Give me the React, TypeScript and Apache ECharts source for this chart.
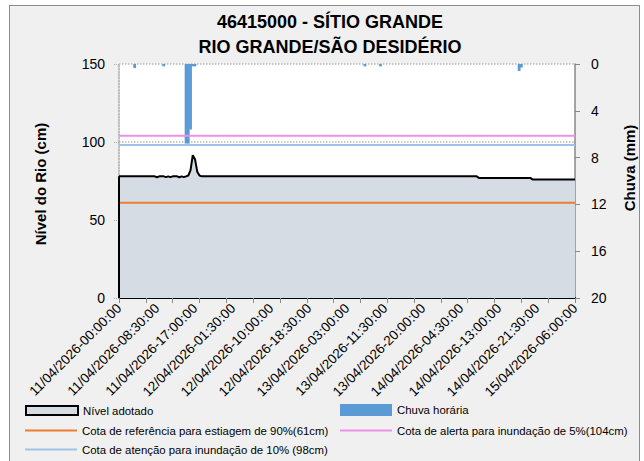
import React, { useEffect, useRef } from "react";
import * as echarts from "echarts";

const TITLE_LINE_1 = "46415000 - SÍTIO GRANDE";
const TITLE_LINE_2 = "RIO GRANDE/SÃO DESIDÉRIO";
const LEFT_AXIS_NAME = "Nível do Rio (cm)";
const RIGHT_AXIS_NAME = "Chuva (mm)";

const SERIES_LEVEL = "Nível adotado";
const SERIES_RAIN = "Chuva horária";
const SERIES_DRY = "Cota de referência para estiagem de 90%(61cm)";
const SERIES_ALERT = "Cota de alerta para inundação de 5%(104cm)";
const SERIES_ATTN = "Cota de atenção para inundação de 10% (98cm)";

const COTA_DRY = 61;
const COTA_ALERT = 104;
const COTA_ATTN = 98;

// time stamps, 30-minute steps from 11/04/2026 00:00 to 15/04/2026 06:00
const CATEGORIES: string[] = [];
for (let k = 0; k <= 204; k++) {
  const totalMin = k * 30;
  const day = 11 + Math.floor(totalMin / 1440);
  const h = Math.floor((totalMin % 1440) / 60);
  const m = totalMin % 60;
  const p = (n: number) => (n < 10 ? "0" + n : "" + n);
  CATEGORIES.push(`${p(day)}/04/2026-${p(h)}:${p(m)}:00`);
}

// river level (cm), one value per 30 minutes (205 values)
const LEVEL: number[] = [
  78, 78, 78, 78, 78, 78, 78, 78, 78, 78, 78, 78, 78, 78, 78, 78, 78, 77.4, 78, 78,
  78, 77.5, 78, 77.5, 78, 78, 78, 77.4, 78, 77.5, 78, 78.5, 82, 91.5, 89, 81, 78.5, 78, 78, 78,
  78, 78, 78, 78, 78, 78, 78, 78, 78, 78, 78, 78, 78, 78, 78, 78, 78, 78, 78, 78,
  78, 78, 78, 78, 78, 78, 78, 78, 78, 78, 78, 78, 78, 78, 78, 78, 78, 78, 78, 78,
  78, 78, 78, 78, 78, 78, 78, 78, 78, 78, 78, 78, 78, 78, 78, 78, 78, 78, 78, 78,
  78, 78, 78, 78, 78, 78, 78, 78, 78, 78, 78, 78, 78, 78, 78, 78, 78, 78, 78, 78,
  78, 78, 78, 78, 78, 78, 78, 78, 78, 78, 78, 78, 78, 78, 78, 78, 78, 78, 78, 78,
  78, 78, 78, 78, 78, 78, 78, 78, 78, 78, 78, 78, 78, 78, 78, 78, 78, 78, 78, 78,
  78, 77, 77, 77, 77, 77, 77, 77, 77, 77, 77, 77, 77, 77, 77, 77, 77, 77, 77, 77,
  77, 77, 77, 77, 77, 76, 76, 76, 76, 76, 76, 76, 76, 76, 76, 76, 76, 76, 76, 76,
  76, 76, 76, 76, 76,
];

// hourly rain (mm), one value per 30 minutes (205 values)
const RAIN: number[] = [
  0, 0, 0, 0, 0, 0, 0, 0.35, 0, 0, 0, 0, 0, 0, 0, 0, 0, 0, 0, 0,
  0.2, 0, 0, 0, 0, 0, 0, 0, 0, 0, 6.8, 6.8, 5.6, 0.2, 0.2, 0, 0, 0, 0, 0,
  0, 0, 0, 0, 0, 0, 0, 0, 0, 0, 0, 0, 0, 0, 0, 0, 0, 0, 0, 0,
  0, 0, 0, 0, 0, 0, 0, 0, 0, 0, 0, 0, 0, 0, 0, 0, 0, 0, 0, 0,
  0, 0, 0, 0, 0, 0, 0, 0, 0, 0, 0, 0, 0, 0, 0, 0, 0, 0, 0, 0,
  0, 0, 0, 0, 0, 0, 0, 0, 0, 0, 0.2, 0, 0, 0, 0, 0, 0, 0.2, 0, 0,
  0, 0, 0, 0, 0, 0, 0, 0, 0, 0, 0, 0, 0, 0, 0, 0, 0, 0, 0, 0,
  0, 0, 0, 0, 0, 0, 0, 0, 0, 0, 0, 0, 0, 0, 0, 0, 0, 0, 0, 0,
  0, 0, 0, 0, 0, 0, 0, 0, 0, 0, 0, 0, 0, 0, 0, 0, 0, 0, 0, 0.6,
  0.3, 0, 0, 0, 0, 0, 0, 0, 0, 0, 0, 0, 0, 0, 0, 0, 0, 0, 0, 0,
  0, 0, 0, 0, 0,
];

const FONT = "'Liberation Sans', Arial, sans-serif";

export default function App() {
  const ref = useRef<HTMLDivElement>(null);

  useEffect(() => {
    if (!ref.current) return;
    const chart = echarts.init(ref.current, undefined, { renderer: "svg" });
    const first = CATEGORIES[0];
    const last = CATEGORIES[CATEGORIES.length - 1];
    const legendBase = {
      orient: "horizontal" as const,
      padding: 0,
      itemWidth: 52,
      itemHeight: 9,
      itemGap: 6,
      selectedMode: false,
      textStyle: { fontFamily: FONT, fontSize: 11.4, color: "#000" },
    };
    const lineLegend = (name: string, color: string, left: number, top: number) => ({
      ...legendBase,
      left,
      top,
      itemHeight: 2,
      data: [{ name, icon: "rect", itemStyle: { color } }],
    });
    chart.setOption({
      animation: false,
      backgroundColor: "transparent",
      graphic: [
        {
          type: "text",
          x: 330,
          y: 22,
          style: {
            text: TITLE_LINE_1,
            font: `bold 18px ${FONT}`,
            fill: "#000",
            textAlign: "center",
            textVerticalAlign: "middle",
          },
        },
        {
          type: "text",
          x: 330,
          y: 47,
          style: {
            text: TITLE_LINE_2,
            font: `bold 18px ${FONT}`,
            fill: "#000",
            textAlign: "center",
            textVerticalAlign: "middle",
          },
        },
        {
          type: "text",
          x: 40,
          y: 184,
          rotation: Math.PI / 2,
          style: {
            text: LEFT_AXIS_NAME,
            font: `bold 15px ${FONT}`,
            fill: "#000",
            textAlign: "center",
            textVerticalAlign: "middle",
          },
        },
        {
          type: "text",
          x: 629,
          y: 168,
          rotation: Math.PI / 2,
          style: {
            text: RIGHT_AXIS_NAME,
            font: `bold 15px ${FONT}`,
            fill: "#000",
            textAlign: "center",
            textVerticalAlign: "middle",
          },
        },
      ],
      grid: {
        left: 119,
        top: 64,
        width: 456,
        height: 234,
        show: true,
        backgroundColor: "#ffffff",
        borderWidth: 0,
      },
      xAxis: {
        type: "category",
        data: CATEGORIES,
        boundaryGap: false,
        axisLine: { lineStyle: { color: "#000", width: 2 } },
        axisTick: { interval: 11, length: 5, lineStyle: { color: "#888", width: 1 } },
        axisLabel: {
          interval: 16,
          rotate: 45,
          margin: 8,
          fontFamily: FONT,
          fontSize: 13.5,
          color: "#000",
        },
        splitLine: { show: false },
      },
      yAxis: [
        {
          type: "value",
          min: 0,
          max: 150,
          interval: 50,
          axisLine: { show: true, lineStyle: { color: "#aaa", type: "dotted", width: 1.5 } },
          axisTick: { show: true, length: 5, lineStyle: { color: "#aaa", type: "dotted" } },
          axisLabel: { margin: 14, fontFamily: FONT, fontSize: 14, color: "#000" },
          splitLine: { show: true, lineStyle: { color: "#bbb", type: "dotted", width: 1.5 } },
        },
        {
          type: "value",
          min: 0,
          max: 20,
          interval: 4,
          inverse: true,
          position: "right",
          axisLine: { show: true, lineStyle: { color: "#888", width: 1.5 } },
          axisTick: { show: true, length: 5, inside: false, lineStyle: { color: "#888" } },
          axisLabel: { margin: 16, fontFamily: FONT, fontSize: 14, color: "#000" },
          splitLine: { show: false },
        },
      ],
      legend: [
        {
          ...legendBase,
          left: 25,
          top: 405,
          data: [
            {
              name: SERIES_LEVEL,
              icon: "rect",
              itemStyle: { color: "#d6dce4", borderColor: "#000", borderWidth: 2 },
            },
          ],
        },
        {
          ...legendBase,
          left: 340,
          top: 404,
          itemHeight: 12,
          data: [{ name: SERIES_RAIN, icon: "rect" }],
        },
        lineLegend(SERIES_DRY, "#ed7d31", 25, 425),
        lineLegend(SERIES_ALERT, "#ec90e8", 340, 425),
        lineLegend(SERIES_ATTN, "#9dc3e6", 25, 444),
      ],
      series: [
        {
          name: SERIES_LEVEL,
          type: "line",
          data: LEVEL,
          yAxisIndex: 0,
          symbol: "none",
          lineStyle: { color: "#000", width: 2 },
          itemStyle: { color: "#d6dce4" },
          areaStyle: { color: "#d6dce4", opacity: 1 },
          markLine: {
            silent: true,
            symbol: "none",
            label: { show: false },
            lineStyle: { color: "#000", width: 2, type: "solid" },
            data: [[{ coord: [first, 0] }, { coord: [first, LEVEL[0]] }]],
          },
          z: 2,
        },
        {
          name: SERIES_RAIN,
          type: "bar",
          data: RAIN,
          yAxisIndex: 1,
          barWidth: 2.8,
          itemStyle: { color: "#5b9bd5" },
          z: 3,
        },
        {
          name: SERIES_DRY,
          type: "line",
          data: [[first, COTA_DRY], [last, COTA_DRY]],
          yAxisIndex: 0,
          symbol: "none",
          lineStyle: { color: "#ed7d31", width: 2 },
          itemStyle: { color: "#ed7d31" },
          z: 4,
        },
        {
          name: SERIES_ALERT,
          type: "line",
          data: [[first, COTA_ALERT], [last, COTA_ALERT]],
          yAxisIndex: 0,
          symbol: "none",
          lineStyle: { color: "#ec90e8", width: 2 },
          itemStyle: { color: "#ec90e8" },
          z: 4,
        },
        {
          name: SERIES_ATTN,
          type: "line",
          data: [[first, COTA_ATTN], [last, COTA_ATTN]],
          yAxisIndex: 0,
          symbol: "none",
          lineStyle: { color: "#9dc3e6", width: 2 },
          itemStyle: { color: "#9dc3e6" },
          z: 4,
        },
      ],
    });
    return () => chart.dispose();
  }, []);

  return (
    <div
      style={{
        position: "absolute",
        left: 0,
        top: 0,
        width: 644,
        height: 461,
        background: "#ffffff",
        overflow: "hidden",
      }}
    >
      <div
        style={{
          position: "absolute",
          left: 9,
          top: 5,
          width: 631,
          height: 480,
          boxSizing: "border-box",
          border: "1px solid #8c8c8c",
          background: "#f0f0f0",
        }}
      />
      <div ref={ref} style={{ position: "absolute", left: 0, top: 0, width: 644, height: 461 }} />
    </div>
  );
}
